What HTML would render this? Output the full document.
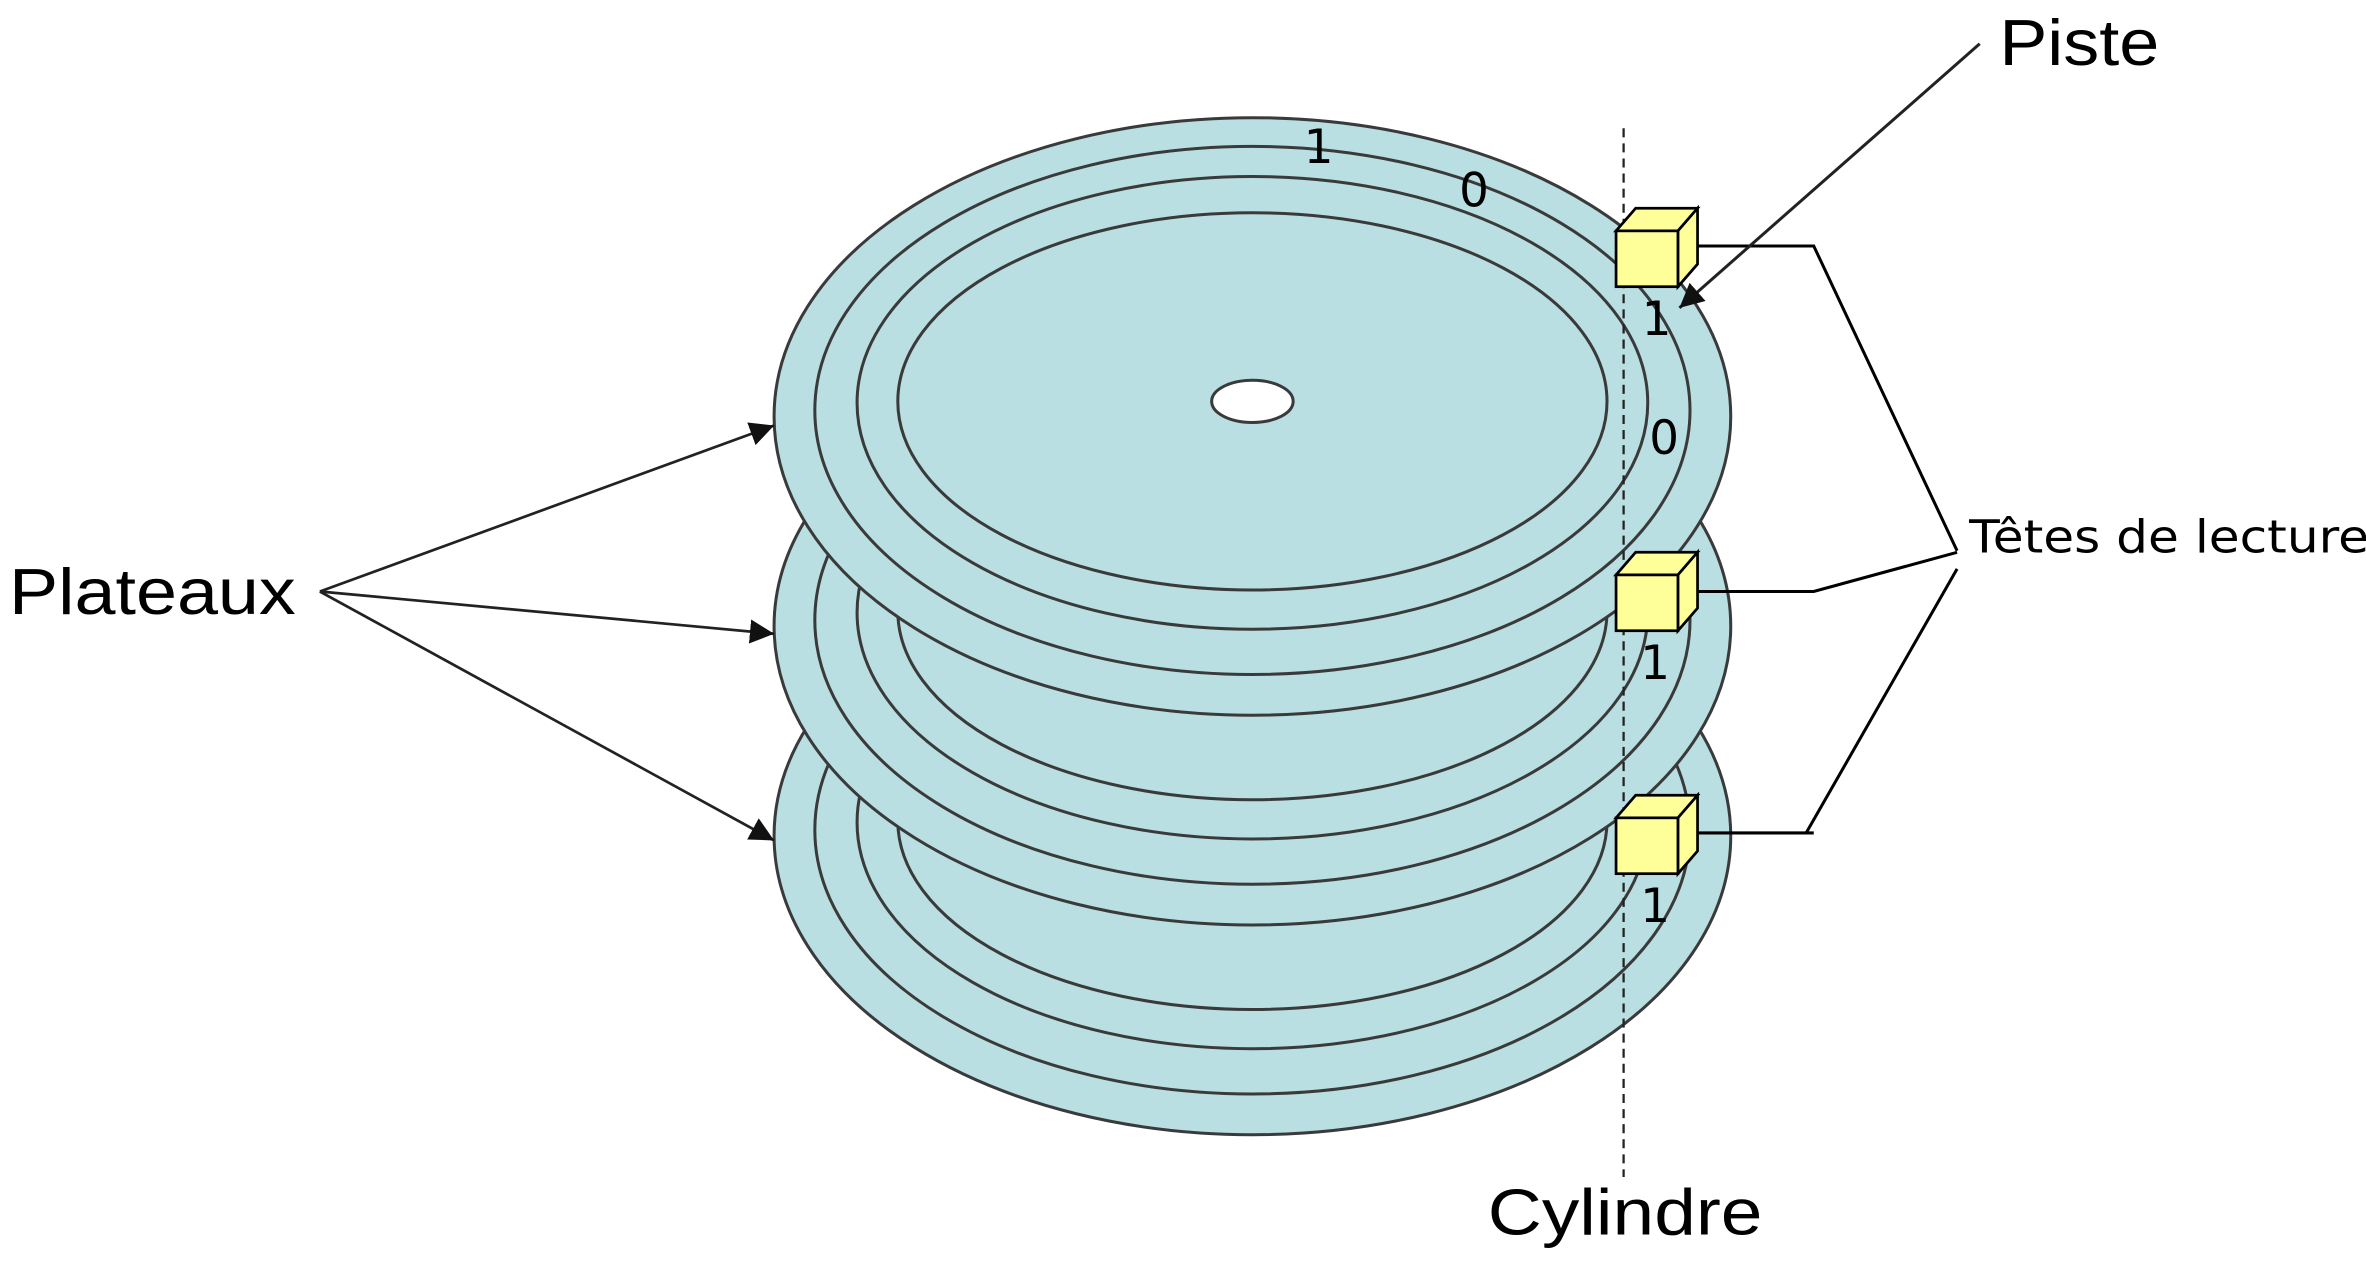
<!DOCTYPE html>
<html><head><meta charset="utf-8"><style>html,body{margin:0;padding:0;background:#fff}svg{display:block}</style></head>
<body>
<svg width="2366" height="1266" viewBox="0 0 1568 839" preserveAspectRatio="none" xmlns="http://www.w3.org/2000/svg">
<defs>
<marker id="b" viewBox="0 0 10 10" refX="10" refY="5" markerWidth="16" markerHeight="16" orient="auto" markerUnits="userSpaceOnUse"><path d="M0,0L10,5L0,10Z" fill="#111"/></marker>
</defs>
<g fill="#b9dfe2" stroke="#3a3a3a" stroke-width="2">
<g transform="translate(0,278)">
<ellipse cx="830" cy="276" rx="317" ry="198"/><ellipse cx="830" cy="272" rx="290" ry="175"/><ellipse cx="830" cy="267" rx="262" ry="150"/><ellipse cx="830" cy="266" rx="235" ry="125"/>
</g>
<g transform="translate(0,139)">
<ellipse cx="830" cy="276" rx="317" ry="198"/><ellipse cx="830" cy="272" rx="290" ry="175"/><ellipse cx="830" cy="267" rx="262" ry="150"/><ellipse cx="830" cy="266" rx="235" ry="125"/>
</g>
<ellipse cx="830" cy="276" rx="317" ry="198"/><ellipse cx="830" cy="272" rx="290" ry="175"/><ellipse cx="830" cy="267" rx="262" ry="150"/><ellipse cx="830" cy="266" rx="235" ry="125"/>
<ellipse cx="830" cy="266" rx="27" ry="14" fill="#fff"/>
</g>
<line x1="1076" y1="85" x2="1076" y2="780" stroke="#222" stroke-width="1.5" stroke-dasharray="6,4"/>
<g font-family="'DejaVu Sans',sans-serif" font-size="31" fill="#000">
<text x="864" y="108">1</text><text x="967" y="137">0</text><text x="1088" y="222">1</text><text x="1093" y="301">0</text><text x="1087" y="450">1</text><text x="1087" y="611">1</text>
</g>
<g fill="#ffff99" stroke="#000" stroke-width="1.8" stroke-linejoin="miter">
<g id="c">
<path d="M1071,153L1084,138L1125,138L1112,153Z"/><path d="M1112,153L1125,138L1125,175L1112,190Z"/><rect x="1071" y="153" width="41" height="37"/>
</g>
<use href="#c" transform="translate(0,228)"/>
<use href="#c" transform="translate(0,389)"/>
</g>
<g stroke="#000" stroke-width="2" fill="none">
<polyline points="1125,163 1202,163 1297,365"/>
<polyline points="1125,392 1202,392 1297,366"/>
<polyline points="1125,552 1202,552"/>
<line x1="1197" y1="552" x2="1297" y2="377"/>
</g>
<line x1="1312" y1="29" x2="1113" y2="204" stroke="#222" stroke-width="2" marker-end="url(#b)"/>
<g stroke="#222" stroke-width="1.8">
<line x1="212" y1="392" x2="513" y2="282" marker-end="url(#b)"/>
<line x1="212" y1="392" x2="513" y2="420" marker-end="url(#b)"/>
<line x1="212" y1="392" x2="513" y2="557" marker-end="url(#b)"/>
</g>
<g font-family="'Liberation Sans',sans-serif" font-size="43" fill="#000">
<text x="1325" y="43" textLength="106" lengthAdjust="spacingAndGlyphs">Piste</text>
<text x="6" y="407" textLength="190" lengthAdjust="spacingAndGlyphs">Plateaux</text>
<text x="986" y="818" textLength="182" lengthAdjust="spacingAndGlyphs">Cylindre</text>
</g>
<text x="1305" y="366" font-family="'DejaVu Sans',sans-serif" font-size="30" fill="#000" textLength="265" lengthAdjust="spacingAndGlyphs">Têtes de lecture</text>
</svg>
</body></html>
